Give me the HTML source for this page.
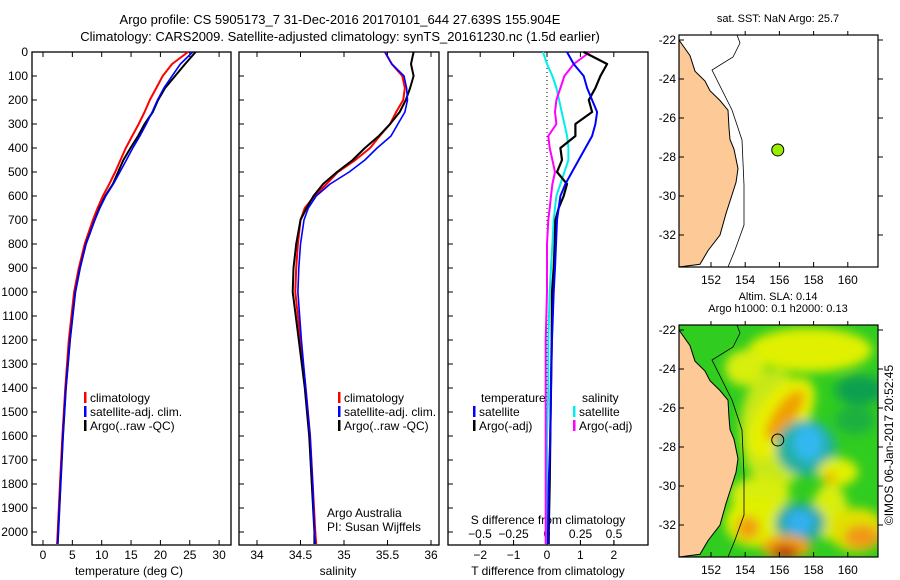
<!DOCTYPE html>
<html><head><meta charset="utf-8"><style>
html,body{margin:0;padding:0;background:#fff;}
svg{display:block;font-family:"Liberation Sans",sans-serif;}
text{fill:#000;}
</style></head><body>
<svg id="fig" width="900" height="580" viewBox="0 0 900 580" xmlns="http://www.w3.org/2000/svg">
<defs>
<filter id="blur" x="-20%" y="-20%" width="140%" height="140%"><feGaussianBlur stdDeviation="5"/></filter>
<clipPath id="clipM2"><rect x="679" y="325" width="199" height="232"/></clipPath>
<clipPath id="clipM1"><rect x="679" y="35" width="199" height="232"/></clipPath>
</defs>
<text x="340" y="24" font-size="13" text-anchor="middle">Argo profile: CS 5905173_7 31-Dec-2016 20170101_644 27.639S 155.904E</text>
<text x="340" y="41" font-size="13" text-anchor="middle">Climatology: CARS2009. Satellite-adjusted climatology: synTS_20161230.nc (1.5d earlier)</text>
<g id="g1"></g>
<g id="g2"></g>
<g id="g3"></g>
<g id="m1"></g>
<g id="m2"></g>
<text transform="translate(893,445) rotate(-90)" font-size="12" text-anchor="middle">©IMOS 06-Jan-2017 20:52:45</text>
</svg>
<script>
// ---- data ----
const depths = [0,50,100,150,200,250,300,350,400,450,500,550,600,650,700,800,900,1000,1200,1400,1600,1800,2000,2050];
const tempClim = [24.7,22.0,20.4,19.3,18.2,17.3,16.3,15.2,14.1,13.2,12.3,11.3,10.2,9.3,8.5,7.1,6.1,5.3,4.4,3.8,3.3,2.9,2.5,2.4];
const tempSat  = [25.5,23.4,22.0,20.6,19.5,18.6,17.6,16.5,15.3,14.2,13.1,12.0,10.7,9.7,8.8,7.3,6.3,5.5,4.6,3.9,3.4,3.0,2.6,2.5];
const tempArgo = [26.0,24.2,22.5,20.8,19.6,18.7,17.3,16.2,14.9,13.7,12.8,11.9,10.6,9.6,8.8,7.3,6.3,5.5,4.6,3.9,3.4,3.0,2.6,2.5];
const salClim = [35.47,35.55,35.67,35.70,35.68,35.60,35.53,35.41,35.30,35.13,34.93,34.80,34.66,34.55,34.50,34.47,34.45,34.44,34.50,34.56,34.61,34.64,34.67,34.68];
const salSat  = [35.47,35.55,35.69,35.72,35.73,35.70,35.62,35.54,35.38,35.24,35.06,34.84,34.68,34.59,34.54,34.50,34.48,34.47,34.51,34.56,34.61,34.64,34.66,34.67];
const salArgo = [35.80,35.77,35.80,35.76,35.71,35.64,35.53,35.40,35.24,35.10,34.92,34.76,34.65,34.57,34.50,34.45,34.42,34.41,34.48,34.55,34.60,34.63,34.66,34.66];
const dTsat  = [0.6,0.8,1.1,1.2,1.35,1.5,1.45,1.35,1.15,0.95,0.75,0.55,0.4,0.35,0.3,0.27,0.24,0.2,0.15,0.12,0.1,0.05,0.03,0.03];
const dTargo = [1.1,1.8,1.6,1.45,1.25,1.35,0.85,0.85,0.4,0.45,0.3,0.6,0.5,0.35,0.25,0.23,0.2,0.15,0.14,0.12,0.1,0.08,0.05,0.05];
const dSsat  = [-0.03,0.0,0.04,0.07,0.09,0.11,0.13,0.15,0.16,0.16,0.13,0.1,0.07,0.06,0.05,0.04,0.03,0.02,0.01,0.01,0.0,0.0,0.0,0.0];
const dSargo = [0.32,0.2,0.13,0.1,0.07,0.06,0.07,0.01,0.02,0.04,0.06,0.04,0.03,0.02,0.01,0.0,0.0,0.0,-0.01,-0.01,-0.01,-0.01,-0.01,-0.01];
const depthTicks = [0,100,200,300,400,500,600,700,800,900,1000,1100,1200,1300,1400,1500,1600,1700,1800,1900,2000];
const tempTicks = [0,5,10,15,20,25,30];
const salTicks = [34,34.5,35,35.5,36];
const dTTicks = [-2,-1,0,1,2];
const dSTicks = [-0.5,-0.25,0,0.25,0.5];
const lonTicks = [152,154,156,158,160];
const latTicks = [-22,-24,-26,-28,-30,-32];
const argoLon = 155.904, argoLat = -27.639;

const NS="http://www.w3.org/2000/svg";
function mk(parent,tag,attrs,txt){const e=document.createElementNS(NS,tag);for(const k in attrs)e.setAttribute(k,attrs[k]);if(txt!==undefined)e.textContent=txt;parent.appendChild(e);return e;}
const yD = d => 52 + d*0.24;
const PT=52, PB=545;
function frame(g,x0,x1,name){
  const r=mk(g,'rect',{x:x0,y:PT,width:x1-x0,height:PB-PT,fill:'none',stroke:'#000','stroke-width':1.3});
  
  
  depthTicks.forEach(d=>{mk(g,'line',{x1:x0,x2:x0+5,y1:yD(d),y2:yD(d),stroke:'#000'});});
}
function curve(g,xs,f,color,name,w){
  const pts=depths.map((d,i)=>f(xs[i]).toFixed(1)+','+yD(d).toFixed(1)).join(' ');
  const p=mk(g,'polyline',{points:pts,fill:'none',stroke:color,'stroke-width':w||2,'stroke-linejoin':'round'});
  
  
}
function legend(g,x,y,items){
  items.forEach((it,i)=>{
    mk(g,'rect',{x:x,y:y+i*14-6,width:2.5,height:11,fill:it[1]});
    const t=mk(g,'text',{x:x+6,y:y+i*14+4,'font-size':12},it[0]);
    
    
  });
}
// panel 1
const g1=document.getElementById('g1');
const xT = v => 43 + v*5.87;
frame(g1,32,231,'temperature-plot-frame');
depthTicks.forEach(d=>{const t=mk(g1,'text',{x:28,y:yD(d)+4,'font-size':12,'text-anchor':'end'},String(d));
  
  });
tempTicks.forEach(v=>{mk(g1,'line',{x1:xT(v),x2:xT(v),y1:PB,y2:PB-5,stroke:'#000'});mk(g1,'line',{x1:xT(v),x2:xT(v),y1:PT,y2:PT+5,stroke:'#000'});
  const t=mk(g1,'text',{x:xT(v),y:559,'font-size':12,'text-anchor':'middle'},String(v));
  
  });
mk(g1,'text',{x:129,y:575,'font-size':12,'text-anchor':'middle',},'temperature (deg C)');
curve(g1,tempClim,xT,'#f00','temp-climatology-line');
curve(g1,tempArgo,xT,'#000','temp-argo-line');
curve(g1,tempSat,xT,'#00f','temp-satellite-line',1.6);
legend(g1,84,398,[['climatology','#f00'],['satellite-adj. clim.','#00f'],['Argo(..raw -QC)','#000']]);
// panel 2
const g2=document.getElementById('g2');
const xS = v => 257 + (v-34)*87;
frame(g2,239,439,'salinity-plot-frame');
salTicks.forEach(v=>{mk(g2,'line',{x1:xS(v),x2:xS(v),y1:PB,y2:PB-5,stroke:'#000'});mk(g2,'line',{x1:xS(v),x2:xS(v),y1:PT,y2:PT+5,stroke:'#000'});
  const t=mk(g2,'text',{x:xS(v),y:559,'font-size':12,'text-anchor':'middle'},String(v));
  
  });
mk(g2,'text',{x:338,y:575,'font-size':12,'text-anchor':'middle',},'salinity');
curve(g2,salClim,xS,'#f00','sal-climatology-line');
curve(g2,salArgo,xS,'#000','sal-argo-line');
curve(g2,salSat,xS,'#00f','sal-satellite-line',1.6);
legend(g2,338,398,[['climatology','#f00'],['satellite-adj. clim.','#00f'],['Argo(..raw -QC)','#000']]);
mk(g2,'text',{x:327,y:517,'font-size':12,},'Argo Australia');
mk(g2,'text',{x:327,y:531,'font-size':12,},'PI: Susan Wijffels');
// panel 3
const g3=document.getElementById('g3');
const xDT = v => 547 + v*33.4;
const xDS = v => 547 + v*134;
frame(g3,448,648,'difference-plot-frame');
mk(g3,'line',{x1:547,x2:547,y1:PT,y2:PB,stroke:'#000','stroke-dasharray':'1,3',});
dTTicks.forEach(v=>{mk(g3,'line',{x1:xDT(v),x2:xDT(v),y1:PB,y2:PB-5,stroke:'#000'});mk(g3,'line',{x1:xDT(v),x2:xDT(v),y1:PT,y2:PT+5,stroke:'#000'});
  const t=mk(g3,'text',{x:xDT(v),y:559,'font-size':12,'text-anchor':'middle'},v<0?'\u2212'+(-v):String(v));
  
  });
dSTicks.forEach(v=>{mk(g3,'line',{x1:xDS(v),x2:xDS(v),y1:PB,y2:PB-5,stroke:'#000'});
  const t=mk(g3,'text',{x:xDS(v),y:538,'font-size':12,'text-anchor':'middle'},v<0?'\u2212'+(-v):String(v));
  
  });
mk(g3,'text',{x:548,y:575,'font-size':12,'text-anchor':'middle',},'T difference from climatology');
mk(g3,'text',{x:548,y:524,'font-size':12,'text-anchor':'middle',},'S difference from climatology');
curve(g3,dSsat,xDS,'#0ee','s-satellite-diff-line');
curve(g3,dSargo,xDS,'#f0f','s-argo-diff-line');
curve(g3,dTargo,xDT,'#000','t-argo-diff-line',2.2);
curve(g3,dTsat,xDT,'#00f','t-satellite-diff-line');
mk(g3,'text',{x:481,y:402,'font-size':12,},'temperature');
mk(g3,'text',{x:582,y:402,'font-size':12,},'salinity');
legend(g3,473,412,[['satellite','#00f'],['Argo(-adj)','#000']]);
legend(g3,573,412,[['satellite','#0ee'],['Argo(-adj)','#f0f']]);
// maps
const lonX = v => 711 + (v-152)*17.1;
function drawMap(gid,top,clip,title1,title2,sla){
  const g=document.getElementById(gid);
  const latY = v => top+5 + (-22 - v)*19.5;
  const inner=mk(g,'g',{'clip-path':'url(#'+clip+')'});
  mk(inner,'rect',{x:679,y:top,width:199,height:232,fill:sla?'#30cc20':'#fff'});
  if(sla){
    const bl=mk(inner,'g',{filter:'url(#blur)'});
    const blobs=[
      [810,350,62,22,0,'#e0f000'],[745,368,20,18,0,'#d8ee10'],[775,430,35,60,0,'#c8e818'],
      [860,390,25,15,0,'#10a050'],[855,420,20,14,0,'#1cb040'],
      [782,418,24,46,35,'#e8f000'],[785,415,11,30,35,'#f0a000'],
      [806,448,30,28,0,'#20b0a0'],[808,443,15,18,0,'#30b8f0'],
      [838,472,20,14,0,'#e0f000'],[830,478,6,6,0,'#f0b000'],
      [830,512,18,28,0,'#d8ee10'],[760,495,30,18,0,'#d8ee10'],
      [755,522,30,25,0,'#e0f000'],[748,528,12,12,0,'#f0a010'],
      [800,523,25,20,0,'#20a8a0'],[800,522,14,12,0,'#30b0f0'],
      [857,530,28,22,0,'#e0e000'],[862,537,18,12,0,'#f09818'],
      [786,547,25,12,0,'#f0a010'],[785,552,13,7,0,'#c04010']];
    blobs.forEach(b=>mk(bl,'ellipse',{cx:b[0],cy:b[1]-325+top,rx:b[2],ry:b[3],fill:b[5],transform:'rotate('+b[4]+' '+b[0]+' '+(b[1]-325+top)+')'}));
  }
  const coast=[[679,-22],[690,-22.8],[695,-23.6],[705,-24.1],[710,-24.6],[720,-25.1],[728,-25.6],[729,-26.5],[730,-27.1],[734,-27.6],[738,-28.6],[736,-29.3],[731,-30.1],[726,-30.9],[720,-32.0],[708,-32.8],[700,-33.5]];
  const pts=coast.map(c=>c[0]+','+latY(c[1]).toFixed(1)).join(' ')+' 679,'+(top+232);
  mk(inner,'polygon',{points:'679,'+top+' '+pts,fill:'#fcc997',stroke:'#000','stroke-width':1,});
  const iso=[[737,top],[740,top+8],[733,top+22],[712,top+35],[732,top+75],[742,top+105],[744,top+150],[744,top+190],[735,top+215],[728,top+232]];
  mk(inner,'polyline',{points:iso.map(p=>p.join(',')).join(' '),fill:'none',stroke:'#000','stroke-width':0.8,});
  mk(g,'rect',{x:679,y:top,width:199,height:232,fill:'none',stroke:'#000','stroke-width':1.2});
  lonTicks.forEach(v=>{mk(g,'line',{x1:lonX(v),x2:lonX(v),y1:top+232,y2:top+227,stroke:'#000'});mk(g,'line',{x1:lonX(v),x2:lonX(v),y1:top,y2:top-4,stroke:'#000'});
    const t=mk(g,'text',{x:lonX(v),y:top+249,'font-size':12,'text-anchor':'middle'},String(v));
    
    });
  latTicks.forEach(v=>{mk(g,'line',{x1:679,x2:684,y1:latY(v),y2:latY(v),stroke:'#000'});mk(g,'line',{x1:878,x2:883,y1:latY(v),y2:latY(v),stroke:'#000'});
    const t=mk(g,'text',{x:676,y:latY(v)+4,'font-size':12,'text-anchor':'end'},'-'+(-v));
    
    });
  mk(g,'text',{x:778,y:top-13+(title2?-12:0),'font-size':11,'text-anchor':'middle',},title1);
  if(title2) mk(g,'text',{x:778,y:top-13,'font-size':11,'text-anchor':'middle',},title2);
  const dot=mk(g,'circle',{cx:lonX(argoLon),cy:latY(argoLat),r:6,fill:sla?'none':'#99ee00',stroke:'#000','stroke-width':1});
  
  
}
drawMap('m1',35,'clipM1','sat. SST: NaN Argo: 25.7',null,false);
drawMap('m2',325,'clipM2','Altim. SLA: 0.14','Argo h1000: 0.1 h2000: 0.13',true);
</script>
</body></html>
